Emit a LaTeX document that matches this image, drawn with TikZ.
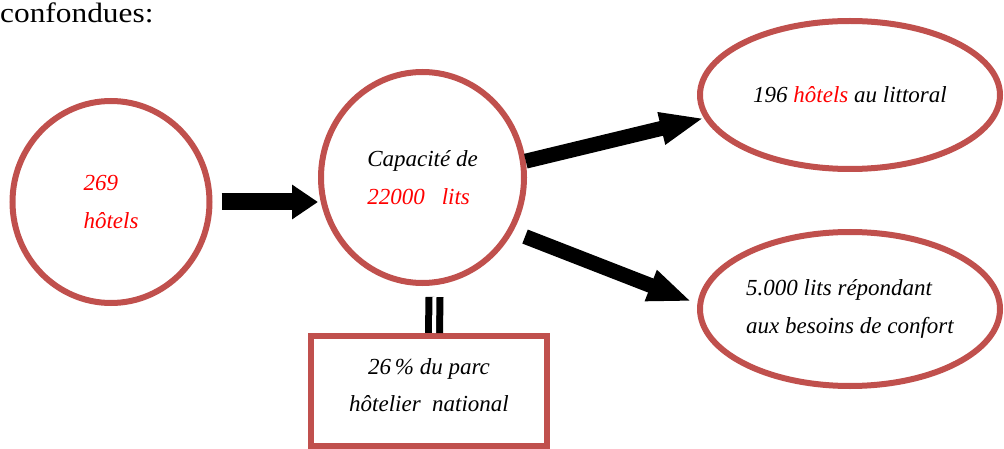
\documentclass[tikz,border=0pt]{standalone}
\usepackage{fontspec}
\setmainfont{Liberation Serif}
\newfontfamily\titrefont[FakeStretch=1.12]{Liberation Serif}
\usetikzlibrary{arrows.meta,shapes.geometric}
\definecolor{rouge}{RGB}{192,80,77}

\begin{document}
\begin{tikzpicture}[x=1pt,y=-1pt,
  bulle/.style={ellipse,draw=rouge,line width=6pt,inner sep=0pt,align=left,font=\fontsize{23}{38}\selectfont\itshape},
  cadre/.style={rectangle,draw=rouge,line width=6pt,inner sep=0pt,align=center,font=\fontsize{23}{37}\selectfont\itshape},
  fleche/.style={line width=15pt,-{Triangle[length=44pt,width=30pt]}},
  flechecourte/.style={line width=17pt,-{Triangle[length=26pt,width=33pt]}},
  egal/.style={line width=7pt,double=white,double distance=4pt}]
\useasboundingbox (0,0) rectangle (1004,449);
\node[anchor=base west,inner sep=0pt,font=\titrefont\fontsize{28}{30}\selectfont] (titre) at (0,23) {confondues:};
% les bulles
\node[bulle,minimum width=197pt,minimum height=202pt] (g) at (111,202) {\color{red}269\\\color{red}hôtels};
\node[bulle,minimum width=203pt,minimum height=211pt] (cap) at (422.5,177.5) {Capacité de\\\color{red}22000\hspace{17pt}lits};
\node[bulle,minimum width=300pt,minimum height=148pt] (lit) at (850,95) {196 \textcolor{red}{hôtels} au littoral};
\node[bulle,minimum width=300pt,minimum height=154pt] (conf) at (850,309) {5.000 lits répondant\\aux besoins de confort};
\node[cadre,text depth=12pt,minimum width=236pt,minimum height=110pt] (boite) at (429,391) {26\,\% du parc\\hôtelier~ national};
% les fleches
\draw[flechecourte] ([xshift=9pt]g.east) -- (g.east -| cap.west);
\draw[fleche] (cap.9) -- (lit.189);
\draw[fleche,shorten <=13pt,shorten >=6pt] (cap.-31) -- (conf.178);
\draw[egal] ([xshift=12pt,yshift=-11pt]cap.south) -- ([xshift=5pt]boite.north);
\end{tikzpicture}
\end{document}
